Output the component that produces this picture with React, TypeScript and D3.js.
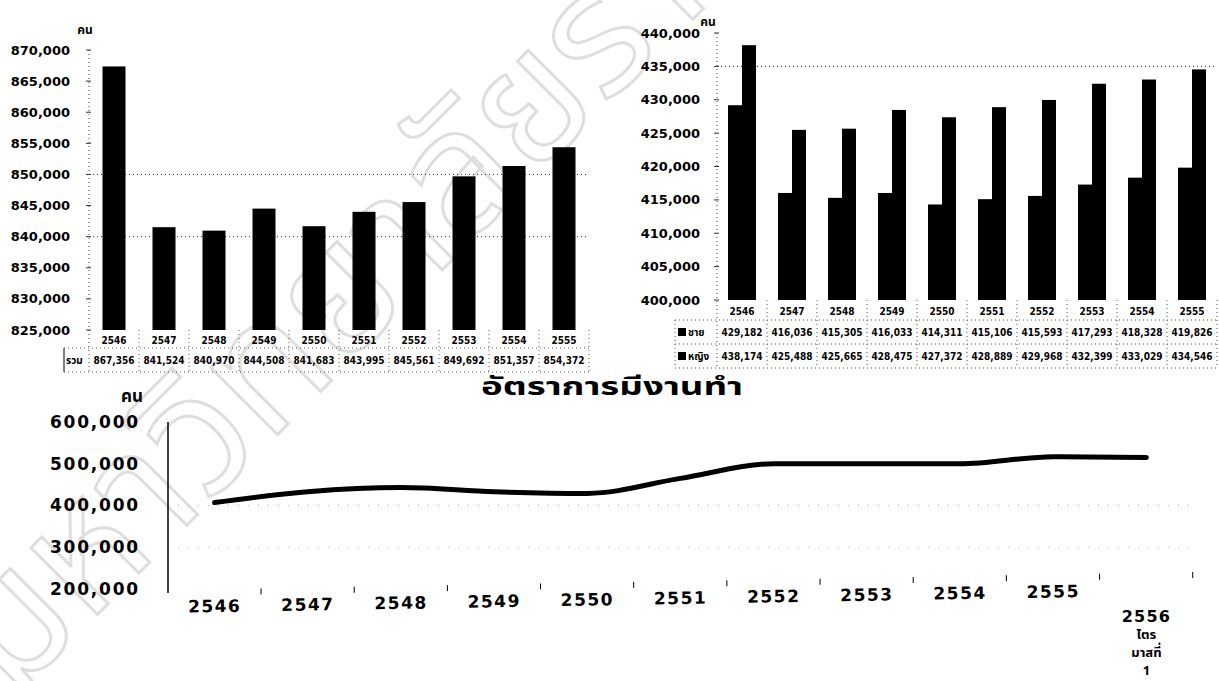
import React from 'react';
import * as d3 from 'd3';

// ประชากร (คน) by year
const years = ['2546', '2547', '2548', '2549', '2550', '2551', '2552', '2553', '2554', '2555'];
const totalPop = [867356, 841524, 840970, 844508, 841683, 843995, 845561, 849692, 851357, 854372];
const malePop = [429182, 416036, 415305, 416033, 414311, 415106, 415593, 417293, 418328, 419826];
const femalePop = [438174, 425488, 425665, 428475, 427372, 428889, 429968, 432399, 433029, 434546];

const leftTicks = [825000, 830000, 835000, 840000, 845000, 850000, 855000, 860000, 865000, 870000];
const leftGrid = [850000, 840000];
const rightTicks = [400000, 405000, 410000, 415000, 420000, 425000, 430000, 435000, 440000];
const rightGrid = [435000];

// อัตราการมีงานทำ
const employCats = ['2546', '2547', '2548', '2549', '2550', '2551', '2552', '2553', '2554', '2555', '2556 ไตรมาสที่ 1'];
const employLines = [['2546'], ['2547'], ['2548'], ['2549'], ['2550'], ['2551'], ['2552'], ['2553'], ['2554'], ['2555'], ['2556', 'ไตร', 'มาสที่', '1']];
const employed = [407000, 433000, 443000, 433000, 429000, 465000, 500000, 500000, 500000, 517000, 515000];
const employTicks = [200000, 300000, 400000, 500000, 600000];
const employGrid = [400000, 300000];

const unit = 'คน';
const title = 'อัตราการมีงานทำ';
const totalName = 'รวม';
const maleName = 'ชาย';
const femaleName = 'หญิง';
const watermark = 'มหาวิทยาลัยราชภัฏ';

const fmt = d3.format(',');
const numFont = "Tahoma, 'DejaVu Sans', sans-serif";
const tableFont = "'DejaVu Sans Condensed', 'DejaVu Sans', sans-serif";
const thaiFont = "Tahoma, 'Noto Sans Thai', Loma, Garuda, 'DejaVu Sans', sans-serif";
const dots = '1,3';

export default function App() {
  // top-left chart
  const yL = d3.scaleLinear().domain([825000, 870000]).range([330, 50]);
  const xL = d3.scaleBand().domain(years).range([89, 589]);
  const barW = xL.bandwidth() * 0.46;

  // top-right chart
  const yR = d3.scaleLinear().domain([400000, 440000]).range([300, 33]);
  const xR = d3.scaleBand().domain(years).range([717, 1217]);
  const xSub = d3.scaleBand().domain(['m', 'f']).range([0, 28]);

  // bottom chart
  const yB = d3.scaleLinear().domain([200000, 600000]).range([589, 422]);
  const xB = d3.scaleBand().domain(employCats).range([168, 1193]);
  const line = d3
    .line<number>()
    .x((_, i) => xB(employCats[i])! + xB.bandwidth() / 2)
    .y((d) => yB(d))
    .curve(d3.curveMonotoneX);

  const lTop = 330, lRow = 348, lBot = 372;
  const rTop = 300, rRow1 = 320, rRow2 = 344, rBot = 368;

  return (
    <svg width={1219} height={681} style={{ position: 'absolute', left: 0, top: 0, background: '#fff' }}>
      {/* watermark */}
      <text
        x={0}
        y={0}
        transform="translate(12,700) rotate(-45)"
        fontFamily={thaiFont}
        fontSize={172}
        fill="none"
        stroke="#dedede"
        strokeWidth={3}
      >
        {watermark}
      </text>

      {/* ---------- top-left: total ---------- */}
      <text x={85} y={30} dy="0.35em" textAnchor="middle" fontFamily={thaiFont} fontWeight="bold" fontSize={12}>
        {unit}
      </text>
      {leftTicks.map((t) => (
        <g key={t}>
          <text x={70} y={yL(t)} dy="0.35em" textAnchor="end" fontFamily={numFont} fontWeight="bold" fontSize={13}>
            {fmt(t)}
          </text>
          <line x1={86} x2={91} y1={yL(t)} y2={yL(t)} stroke="#333" />
        </g>
      ))}
      {leftGrid.map((t) => (
        <line key={t} x1={89} x2={589} y1={yL(t)} y2={yL(t)} stroke="#333" strokeDasharray={dots} />
      ))}
      <line x1={89} x2={89} y1={yL(870000)} y2={lBot} stroke="#444" strokeDasharray={dots} />
      {years.map((yr, i) => (
        <rect key={yr} x={xL(yr)! + (xL.bandwidth() - barW) / 2} y={yL(totalPop[i])} width={barW} height={yL(825000) - yL(totalPop[i])} fill="#000" />
      ))}
      {/* table */}
      <g fontFamily={tableFont} fontWeight="bold" fontSize={10}>
        <line x1={64} x2={64} y1={lRow} y2={lBot} stroke="#000" />
        <line x1={64} x2={589} y1={lRow} y2={lRow} stroke="#555" strokeDasharray={dots} />
        <line x1={64} x2={589} y1={lBot} y2={lBot} stroke="#555" strokeDasharray={dots} />
        <text x={66} y={(lRow + lBot) / 2} dy="0.35em" fontFamily={thaiFont}>{totalName}</text>
        {years.map((yr, i) => (
          <g key={yr}>
            <line x1={xL(yr)! + xL.bandwidth()} x2={xL(yr)! + xL.bandwidth()} y1={lTop} y2={lBot} stroke="#555" strokeDasharray={dots} />
            <text x={xL(yr)! + xL.bandwidth() / 2} y={(lTop + lRow) / 2 + 1} dy="0.35em" textAnchor="middle">{yr}</text>
            <text x={xL(yr)! + xL.bandwidth() / 2} y={(lRow + lBot) / 2} dy="0.35em" textAnchor="middle">{fmt(totalPop[i])}</text>
          </g>
        ))}
      </g>

      {/* ---------- top-right: male / female ---------- */}
      <text x={708} y={22} dy="0.35em" textAnchor="middle" fontFamily={thaiFont} fontWeight="bold" fontSize={12}>
        {unit}
      </text>
      {rightTicks.map((t) => (
        <g key={t}>
          <text x={700} y={yR(t)} dy="0.35em" textAnchor="end" fontFamily={numFont} fontWeight="bold" fontSize={13}>
            {fmt(t)}
          </text>
          <line x1={714} x2={719} y1={yR(t)} y2={yR(t)} stroke="#333" />
        </g>
      ))}
      {rightGrid.map((t) => (
        <line key={t} x1={717} x2={1217} y1={yR(t)} y2={yR(t)} stroke="#333" strokeDasharray={dots} />
      ))}
      <line x1={717} x2={717} y1={yR(440000)} y2={rBot} stroke="#444" strokeDasharray={dots} />
      {years.map((yr, i) => {
        const x0 = xR(yr)! + xR.bandwidth() / 2 - 14;
        return (
          <g key={yr}>
            <rect x={x0 + xSub('m')!} y={yR(malePop[i])} width={xSub.bandwidth()} height={yR(400000) - yR(malePop[i])} fill="#000" />
            <rect x={x0 + xSub('f')!} y={yR(femalePop[i])} width={xSub.bandwidth()} height={yR(400000) - yR(femalePop[i])} fill="#000" />
          </g>
        );
      })}
      <g fontFamily={tableFont} fontWeight="bold" fontSize={10}>
        <line x1={675} x2={675} y1={rRow1} y2={rBot} stroke="#555" strokeDasharray={dots} />
        {[rRow1, rRow2, rBot].map((y) => (
          <line key={y} x1={675} x2={1217} y1={y} y2={y} stroke="#555" strokeDasharray={dots} />
        ))}
        <rect x={678} y={(rRow1 + rRow2) / 2 - 4} width={8} height={8} fill="#000" />
        <text x={688} y={(rRow1 + rRow2) / 2} dy="0.35em" fontFamily={thaiFont}>{maleName}</text>
        <rect x={678} y={(rRow2 + rBot) / 2 - 4} width={8} height={8} fill="#000" />
        <text x={688} y={(rRow2 + rBot) / 2} dy="0.35em" fontFamily={thaiFont}>{femaleName}</text>
        {years.map((yr, i) => (
          <g key={yr}>
            <line x1={xR(yr)! + xR.bandwidth()} x2={xR(yr)! + xR.bandwidth()} y1={rTop} y2={rBot} stroke="#555" strokeDasharray={dots} />
            <text x={xR(yr)! + xR.bandwidth() / 2} y={(rTop + rRow1) / 2 + 1} dy="0.35em" textAnchor="middle">{yr}</text>
            <text x={xR(yr)! + xR.bandwidth() / 2} y={(rRow1 + rRow2) / 2} dy="0.35em" textAnchor="middle">{fmt(malePop[i])}</text>
            <text x={xR(yr)! + xR.bandwidth() / 2} y={(rRow2 + rBot) / 2} dy="0.35em" textAnchor="middle">{fmt(femalePop[i])}</text>
          </g>
        ))}
      </g>

      {/* ---------- bottom: employment line ---------- */}
      <text
        x={612}
        y={387}
        dy="0.35em"
        textAnchor="middle"
        fontFamily={thaiFont}
        fontWeight="bold"
        fontSize={24}
        textLength={262}
        lengthAdjust="spacingAndGlyphs"
      >
        {title}
      </text>
      <text x={132} y={396} dy="0.35em" textAnchor="middle" fontFamily={thaiFont} fontWeight="bold" fontSize={17}>
        {unit}
      </text>
      {employTicks.map((t) => (
        <text key={t} x={140} y={yB(t)} dy="0.35em" textAnchor="end" fontFamily={numFont} fontWeight="bold" fontSize={17} letterSpacing={1.8}>
          {fmt(t)}
        </text>
      ))}
      {employGrid.map((t) => (
        <line key={t} x1={168} x2={1193} y1={yB(t)} y2={yB(t)} stroke="#bbb" strokeDasharray="1,9" />
      ))}
      <line x1={168} x2={168} y1={yB(600000)} y2={yB(200000) + 4} stroke="#000" strokeWidth={1.5} />
      <path d={line(employed)!} fill="none" stroke="#000" strokeWidth={5} strokeLinecap="round" strokeLinejoin="round" />
      <g transform="rotate(-1, 168, 600)" fontFamily={numFont} fontWeight="bold" fontSize={17} letterSpacing={1.5}>
        {employCats.map((c, i) => (
          <g key={c}>
            <line x1={xB(c)! + xB.bandwidth()} x2={xB(c)! + xB.bandwidth()} y1={590} y2={596} stroke="#000" />
            {employLines[i].length === 1 ? (
              <text x={xB(c)! + xB.bandwidth() / 2} y={607} dy="0.35em" textAnchor="middle">
                {employLines[i][0]}
              </text>
            ) : null}
          </g>
        ))}
      </g>
      {employCats.map((c, i) =>
        employLines[i].length > 1 ? (
          <g key={c} fontWeight="bold" textAnchor="middle">
            {employLines[i].map((s, j) => (
              <text
                key={j}
                x={xB(c)! + xB.bandwidth() / 2}
                y={616 + j * 18}
                dy="0.35em"
                fontFamily={j === 0 ? numFont : thaiFont}
                fontSize={j === 0 ? 16 : 13}
                letterSpacing={j === 0 ? 1.2 : 0}
              >
                {s}
              </text>
            ))}
          </g>
        ) : null
      )}
    </svg>
  );
}
